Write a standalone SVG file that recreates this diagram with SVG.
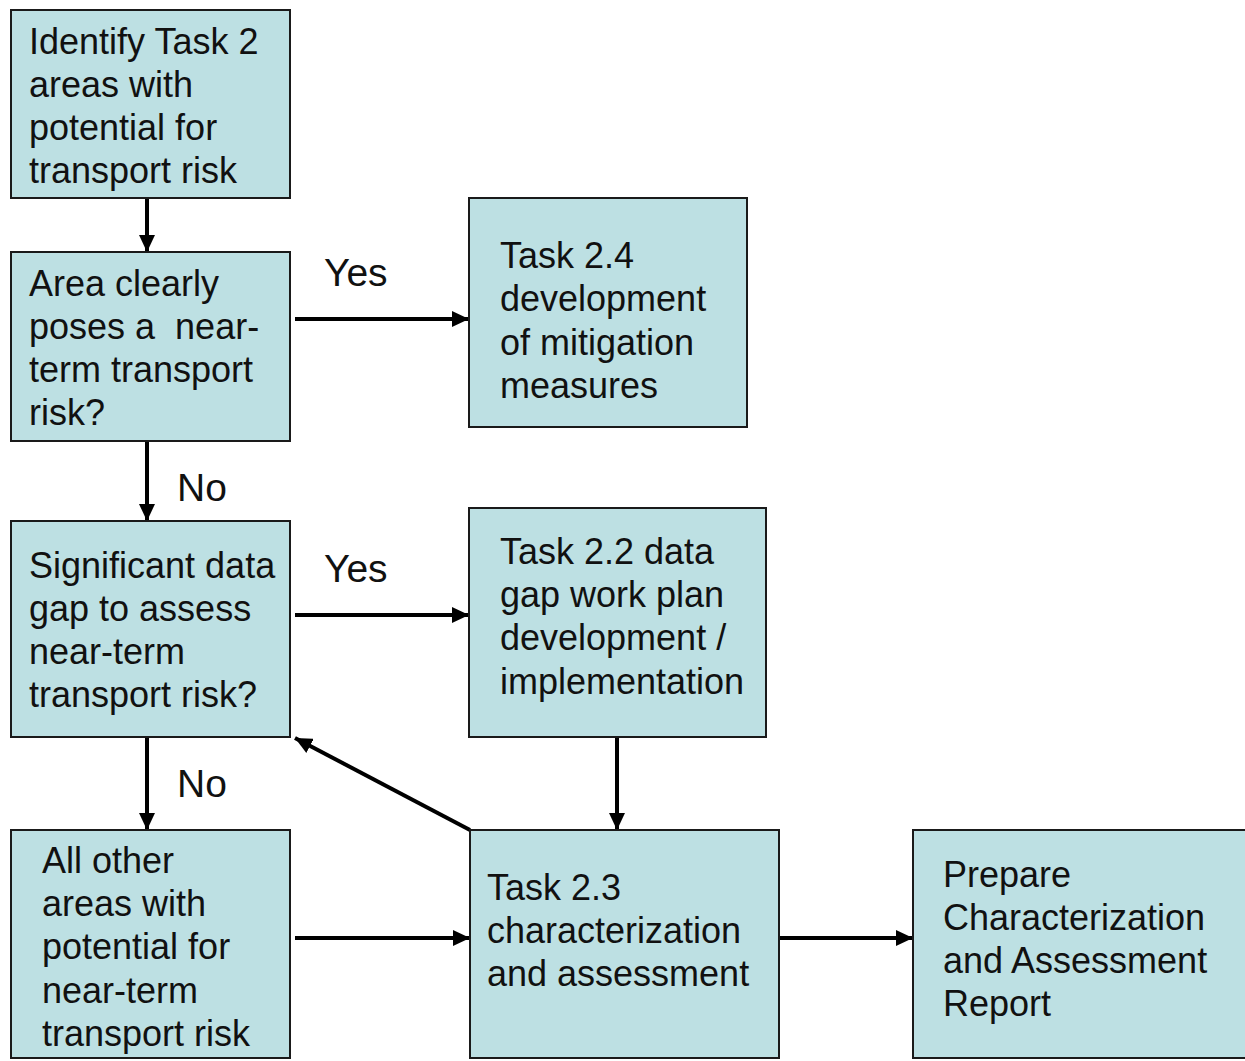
<svg xmlns="http://www.w3.org/2000/svg" width="1245" height="1061" viewBox="0 0 1245 1061">
<style>
.box{fill:#bde0e3;stroke:#1a1a1a;stroke-width:2}
text{font-family:"Liberation Sans",Arial,sans-serif;font-size:36px;fill:#111;white-space:pre}
.lbl{font-size:39px}
.conn{stroke:#000;stroke-width:4;fill:none;marker-end:url(#ah)}
</style>
<defs>
<marker id="ah" markerUnits="userSpaceOnUse" viewBox="0 0 17 16" markerWidth="17" markerHeight="16" refX="17" refY="8" orient="auto">
<path d="M0,0 L17,8 L0,16 z" fill="#000"/>
</marker>
</defs>
<rect width="1245" height="1061" fill="#fff"/>
<g id="connectors">
<line class="conn" x1="147" y1="198" x2="147" y2="252"/>
<line class="conn" x1="295" y1="319" x2="469" y2="319"/>
<line class="conn" x1="147" y1="441" x2="147" y2="521"/>
<line class="conn" x1="295" y1="615" x2="469" y2="615"/>
<line class="conn" x1="617" y1="737" x2="617" y2="830"/>
<line class="conn" x1="470" y1="830" x2="295" y2="738"/>
<line class="conn" x1="147" y1="737" x2="147" y2="830"/>
<line class="conn" x1="295" y1="938" x2="470" y2="938"/>
<line class="conn" x1="779" y1="938" x2="913" y2="938"/>
<text class="lbl" x="324" y="286">Yes</text>
<text class="lbl" x="177" y="501">No</text>
<text class="lbl" x="324" y="582">Yes</text>
<text class="lbl" x="177" y="797">No</text>
</g>
<g id="n1"><rect class="box" x="11" y="10" width="279" height="188"/>
<text><tspan x="29" y="54">Identify Task 2</tspan><tspan x="29" y="97">areas with</tspan><tspan x="29" y="140">potential for</tspan><tspan x="29" y="183">transport risk</tspan></text></g>
<g id="n2"><rect class="box" x="11" y="252" width="279" height="189"/>
<text><tspan x="29" y="296">Area clearly</tspan><tspan x="29" y="339">poses a  near-</tspan><tspan x="29" y="382">term transport</tspan><tspan x="29" y="425">risk?</tspan></text></g>
<g id="n3"><rect class="box" x="469" y="198" width="278" height="229"/>
<text><tspan x="500" y="268">Task 2.4</tspan><tspan x="500" y="311">development</tspan><tspan x="500" y="355">of mitigation</tspan><tspan x="500" y="398">measures</tspan></text></g>
<g id="n4"><rect class="box" x="11" y="521" width="279" height="216"/>
<text><tspan x="29" y="578">Significant data</tspan><tspan x="29" y="621">gap to assess</tspan><tspan x="29" y="664">near-term</tspan><tspan x="29" y="707">transport risk?</tspan></text></g>
<g id="n5"><rect class="box" x="469" y="508" width="297" height="229"/>
<text><tspan x="500" y="564">Task 2.2 data</tspan><tspan x="500" y="607">gap work plan</tspan><tspan x="500" y="650">development /</tspan><tspan x="500" y="694">implementation</tspan></text></g>
<g id="n6"><rect class="box" x="11" y="830" width="279" height="228"/>
<text><tspan x="42" y="873">All other</tspan><tspan x="42" y="916">areas with</tspan><tspan x="42" y="959">potential for</tspan><tspan x="42" y="1003">near-term</tspan><tspan x="42" y="1046">transport risk</tspan></text></g>
<g id="n7"><rect class="box" x="470" y="830" width="309" height="228"/>
<text><tspan x="487" y="900">Task 2.3</tspan><tspan x="487" y="943">characterization</tspan><tspan x="487" y="986">and assessment</tspan></text></g>
<g id="n8"><rect class="box" x="913" y="830" width="340" height="228"/>
<text><tspan x="943" y="887">Prepare</tspan><tspan x="943" y="930">Characterization</tspan><tspan x="943" y="973">and Assessment</tspan><tspan x="943" y="1016">Report</tspan></text></g>
</svg>
